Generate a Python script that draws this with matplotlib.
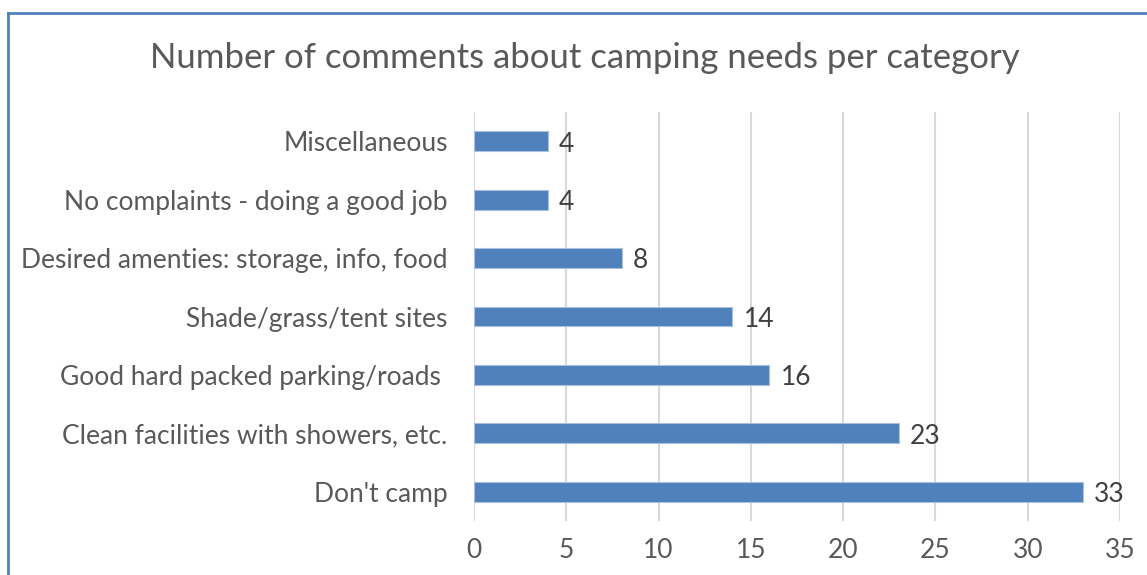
import matplotlib.pyplot as plt
from matplotlib.lines import Line2D

categories = ["Don't camp", "Clean facilities with showers, etc.", "Good hard packed parking/roads ",
              "Shade/grass/tent sites", "Desired amenties: storage, info, food",
              "No complaints - doing a good job", "Miscellaneous"]
counts = [33, 23, 16, 14, 8, 4, 4]
xticks = [0, 5, 10, 15, 20, 25, 30, 35]

plt.rcParams['font.family'] = ['Lato', 'DejaVu Sans']

fig = plt.figure(figsize=(11.47, 5.75), dpi=100)
ax = fig.add_axes([0.4133, 0.0939, 0.5632, 0.7113])

bars = ax.barh(range(len(categories)), counts, height=0.34, color='#4F81BD',
               edgecolor='#A9C1DF', linewidth=0.8, zorder=3)
for b, v in zip(bars, counts):
    ax.annotate(str(v), (b.get_width(), b.get_y() + b.get_height() / 2),
                xytext=(8, -2), textcoords='offset points', va='center', ha='left',
                fontsize=19, color='#404040')

ax.set_xlim(0, 35)
ax.set_ylim(-0.5, len(categories) - 0.5)
ax.set_xticks(xticks)
ax.set_yticks(range(len(categories)))
ax.set_yticklabels(categories)
ax.grid(axis='x', color='#D9D9D9', linewidth=1.5, zorder=0)
for s in ax.spines.values():
    s.set_visible(False)
ax.tick_params(axis='both', length=0, labelsize=19, labelcolor='#595959')
ax.tick_params(axis='y', pad=19)
ax.tick_params(axis='x', pad=12)

fig.suptitle('Number of comments about camping needs per category', x=0.51, y=0.90,
             va='center', fontsize=25, color='#595959')

# chart frame, only top and left edges fall inside the image
fig.add_artist(Line2D([8 / 1147, 1], [1 - 13 / 575, 1 - 13 / 575], color='#4F81BD', linewidth=2))
fig.add_artist(Line2D([8 / 1147, 8 / 1147], [0, 1 - 13 / 575], color='#4F81BD', linewidth=2))

fig.savefig('out.png', dpi=100)
